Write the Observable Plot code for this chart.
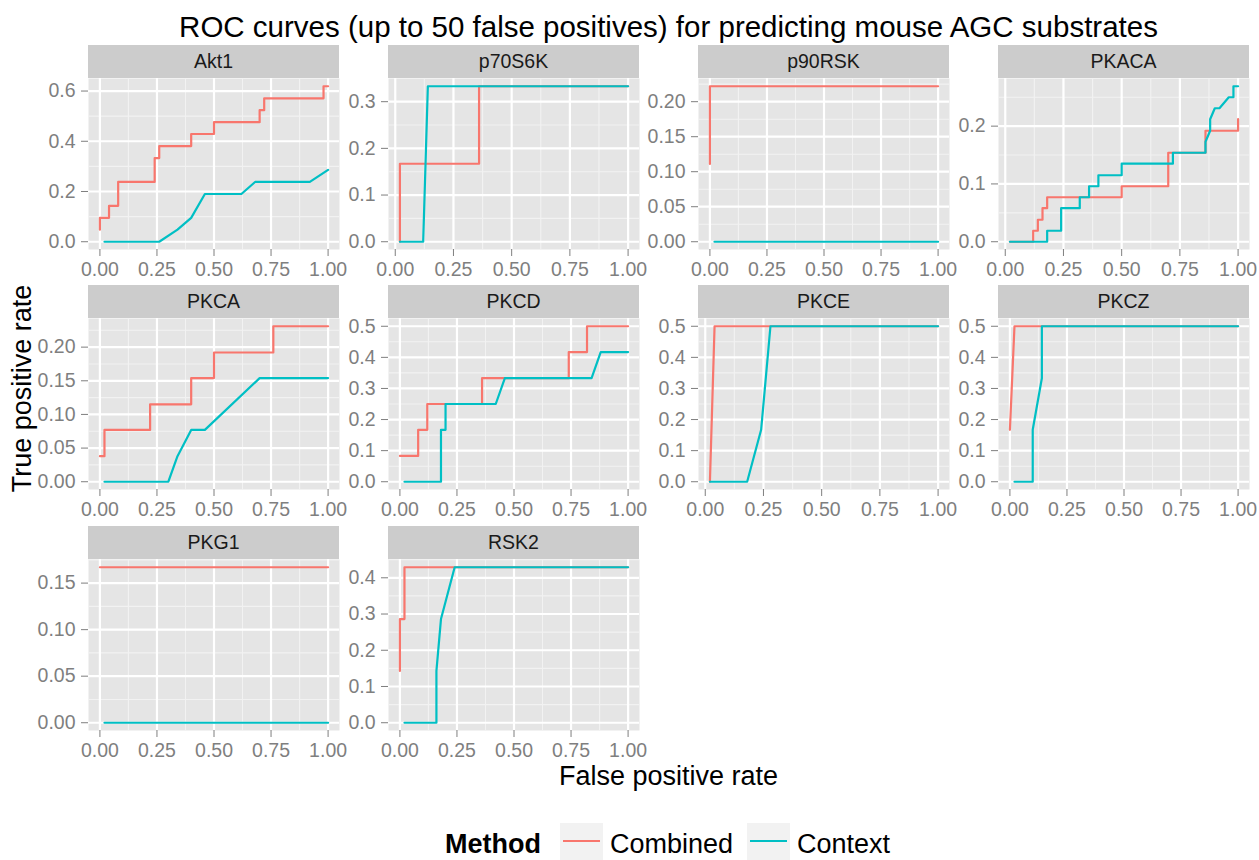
<!DOCTYPE html>
<html><head><meta charset="utf-8">
<script src="https://cdn.jsdelivr.net/npm/d3@7"></script>
<script src="https://cdn.jsdelivr.net/npm/@observablehq/plot@0.6"></script>
<style>
body{margin:0;background:#fff;font-family:"Liberation Sans",Arial,Helvetica,sans-serif;}
#root{position:relative;width:1259px;height:860px;overflow:hidden;background:#fff;}
.abs{position:absolute;white-space:nowrap;}
.strip{background:#CCCCCC;color:#1a1a1a;font-size:19.5px;display:flex;align-items:center;justify-content:center;}
</style></head><body><div id="root"></div><script>
// ---- data ----
const titleText = "ROC curves (up to 50 false positives) for predicting mouse AGC substrates";
const xTitle = "False positive rate";
const yTitle = "True positive rate";
const legendTitle = "Method";
const methods = ["Combined", "Context"];
const methodColors = ["#F8766D", "#00BFC4"];
const panelNames = ["Akt1","p70S6K","p90RSK","PKACA","PKCA","PKCD","PKCE","PKCZ","PKG1","RSK2"];
const xTickValues = [0, 0.25, 0.5, 0.75, 1];
const xTickLabels = ["0.00","0.25","0.50","0.75","1.00"];

const akt1Combined = [[0,0.048],[0,0.095],[0.04,0.095],[0.04,0.143],[0.08,0.143],[0.08,0.238],[0.24,0.238],[0.24,0.333],[0.26,0.333],[0.26,0.381],[0.40,0.381],[0.40,0.429],[0.50,0.429],[0.50,0.476],[0.70,0.476],[0.70,0.524],[0.72,0.524],[0.72,0.571],[0.98,0.571],[0.98,0.619],[1.00,0.619]];
const akt1Context = [[0.02,0],[0.26,0],[0.34,0.048],[0.40,0.095],[0.46,0.190],[0.62,0.190],[0.68,0.238],[0.92,0.238],[1.00,0.286]];
const akt1YTicks = ["0.0","0.2","0.4","0.6"];

const p70Combined = [[0.02,0],[0.02,0.167],[0.36,0.167],[0.36,0.333],[1,0.333]];
const p70Context = [[0.02,0],[0.12,0],[0.14,0.333],[1,0.333]];
const p70YTicks = ["0.0","0.1","0.2","0.3"];

const p90Combined = [[0,0.111],[0,0.222],[1,0.222]];
const p90Context = [[0.02,0],[1,0]];
const p90YTicks = ["0.00","0.05","0.10","0.15","0.20"];

const pkacaCombined = [[0.02,0],[0.12,0],[0.12,0.019],[0.14,0.019],[0.14,0.038],[0.16,0.038],[0.16,0.058],[0.18,0.058],[0.18,0.077],[0.50,0.077],[0.50,0.096],[0.70,0.096],[0.70,0.154],[0.86,0.154],[0.86,0.192],[1.00,0.192],[1.00,0.212]];
const pkacaContext = [[0.02,0],[0.18,0],[0.18,0.019],[0.24,0.019],[0.24,0.058],[0.32,0.058],[0.32,0.077],[0.36,0.077],[0.36,0.096],[0.40,0.096],[0.40,0.115],[0.50,0.115],[0.50,0.135],[0.72,0.135],[0.72,0.154],[0.86,0.154],[0.86,0.173],[0.88,0.192],[0.88,0.212],[0.90,0.231],[0.92,0.231],[0.96,0.250],[0.98,0.250],[0.98,0.269],[1.00,0.269]];
const pkacaYTicks = ["0.0","0.1","0.2"];

const pkcaCombined = [[0,0.038],[0.02,0.038],[0.02,0.077],[0.22,0.077],[0.22,0.115],[0.40,0.115],[0.40,0.154],[0.50,0.154],[0.50,0.192],[0.76,0.192],[0.76,0.231],[1,0.231]];
const pkcaContext = [[0.02,0],[0.30,0],[0.34,0.038],[0.40,0.077],[0.46,0.077],[0.70,0.154],[1,0.154]];
const pkcaYTicks = ["0.00","0.05","0.10","0.15","0.20"];

const pkcdCombined = [[0,0.083],[0.08,0.083],[0.08,0.167],[0.12,0.167],[0.12,0.25],[0.36,0.25],[0.36,0.333],[0.74,0.333],[0.74,0.417],[0.82,0.417],[0.82,0.5],[1,0.5]];
const pkcdContext = [[0.02,0],[0.18,0],[0.18,0.167],[0.20,0.167],[0.20,0.25],[0.42,0.25],[0.46,0.333],[0.84,0.333],[0.88,0.417],[1,0.417]];
const pkcdYTicks = ["0.0","0.1","0.2","0.3","0.4","0.5"];

const pkceCombined = [[0.02,0],[0.04,0.5],[1,0.5]];
const pkceContext = [[0.02,0],[0.18,0],[0.24,0.167],[0.28,0.5],[1,0.5]];
const pkceYTicks = ["0.0","0.1","0.2","0.3","0.4","0.5"];

const pkczCombined = [[0,0.167],[0.02,0.5],[1,0.5]];
const pkczContext = [[0.02,0],[0.10,0],[0.10,0.167],[0.14,0.333],[0.14,0.5],[1,0.5]];
const pkczYTicks = ["0.0","0.1","0.2","0.3","0.4","0.5"];

const pkg1Combined = [[0,0.167],[1,0.167]];
const pkg1Context = [[0.02,0],[1,0]];
const pkg1YTicks = ["0.00","0.05","0.10","0.15"];

const rsk2Combined = [[0,0.143],[0,0.286],[0.02,0.286],[0.02,0.429],[1,0.429]];
const rsk2Context = [[0.02,0],[0.16,0],[0.16,0.143],[0.18,0.286],[0.24,0.429],[1,0.429]];
const rsk2YTicks = ["0.0","0.1","0.2","0.3","0.4"];

const panelCombined = [akt1Combined,p70Combined,p90Combined,pkacaCombined,pkcaCombined,pkcdCombined,pkceCombined,pkczCombined,pkg1Combined,rsk2Combined];
const panelContext = [akt1Context,p70Context,p90Context,pkacaContext,pkcaContext,pkcdContext,pkceContext,pkczContext,pkg1Context,rsk2Context];
const panelYTicks = [akt1YTicks,p70YTicks,p90YTicks,pkacaYTicks,pkcaYTicks,pkcdYTicks,pkceYTicks,pkczYTicks,pkg1YTicks,rsk2YTicks];

// ---- layout ----
const FONT = '"Liberation Sans", Arial, Helvetica, sans-serif';
const colLeft = [88, 388, 698, 998];
const rowTop = [78, 318, 559];
const PW = 251, PH = 171, STRIP = 33;
const ML = 70, MR = 10, MB = 40;

const root = document.getElementById("root");
function addDiv(css, text, cls) {
  const d = document.createElement("div");
  d.className = "abs" + (cls ? " " + cls : "");
  d.style.cssText += css;
  if (text != null) d.textContent = text;
  root.appendChild(d);
  return d;
}

function minorBreaks(ticks, dom) {
  const step = ticks[1] - ticks[0];
  const ext = [ticks[0] - step, ...ticks, ticks[ticks.length - 1] + step];
  const out = [];
  for (let k = 0; k < ext.length - 1; k++) out.push((ext[k] + ext[k + 1]) / 2);
  return out.filter(v => v >= dom[0] && v <= dom[1]);
}

panelNames.forEach((name, i) => {
  const col = i % 4, row = Math.floor(i / 4);
  const left = colLeft[col], top = rowTop[row];
  const rows = [];
  panelCombined[i].forEach(([x, y]) => rows.push({method: "Combined", x, y}));
  panelContext[i].forEach(([x, y]) => rows.push({method: "Context", x, y}));
  const [x0, x1] = d3.extent(rows, d => d.x);
  const [y0, y1] = d3.extent(rows, d => d.y);
  const xDomain = [x0 - (x1 - x0) * 0.05, x1 + (x1 - x0) * 0.05];
  const yDomain = [y0 - (y1 - y0) * 0.05, y1 + (y1 - y0) * 0.05];
  const yLabels = panelYTicks[i];
  const yTickVals = yLabels.map(Number);
  const xFmt = new Map(xTickValues.map((v, k) => [v, xTickLabels[k]]));
  const yFmt = new Map(yTickVals.map((v, k) => [v, yLabels[k]]));

  const svg = Plot.plot({
    width: ML + PW + MR, height: PH + MB,
    marginLeft: ML, marginRight: MR, marginTop: 0, marginBottom: MB,
    style: {background: "transparent", fontFamily: FONT, fontSize: "19.5px", color: "#7F7F7F", overflow: "visible"},
    x: {domain: xDomain, label: null},
    y: {domain: yDomain, label: null},
    color: {domain: methods, range: methodColors},
    marks: [
      Plot.frame({fill: "#E5E5E5", stroke: null}),
      Plot.ruleX(minorBreaks(xTickValues, xDomain), {stroke: "#F2F2F2", strokeWidth: 1.1}),
      Plot.ruleY(minorBreaks(yTickVals, yDomain), {stroke: "#F2F2F2", strokeWidth: 1.1}),
      Plot.ruleX(xTickValues, {stroke: "#ffffff", strokeWidth: 2.2}),
      Plot.ruleY(yTickVals, {stroke: "#ffffff", strokeWidth: 2.2}),
      Plot.axisX(xTickValues, {tickSize: 7, tickPadding: 6, tickFormat: d => xFmt.get(d), label: null}),
      Plot.axisY(yTickVals, {tickSize: 7, tickPadding: 6, tickFormat: d => yFmt.get(d), label: null}),
      Plot.line(rows, {x: "x", y: "y", z: "method", stroke: "method", strokeWidth: 2.2})
    ]
  });
  const wrap = addDiv(`left:${left - ML}px;top:${top}px;`);
  wrap.appendChild(svg);
  addDiv(`left:${left}px;top:${top - STRIP}px;width:${PW}px;height:${STRIP}px;`, name, "strip");
});

// titles
addDiv(`left:0;top:12px;width:1337px;text-align:center;font-size:29.5px;line-height:29.5px;color:#000;`, titleText);
addDiv(`left:0;top:763px;width:1337px;text-align:center;font-size:27px;line-height:27px;color:#000;`, xTitle);
addDiv(`left:${22 - 150}px;top:${388 - 13.5}px;width:300px;height:27px;text-align:center;font-size:27px;line-height:27px;color:#000;transform:rotate(-90deg);`, yTitle);

// legend
addDiv(`left:445px;top:831px;font-size:27px;line-height:27px;font-weight:bold;color:#000;`, legendTitle);
const keyLeft = [560, 747], textLeft = [610, 797];
methods.forEach((m, k) => {
  const box = addDiv(`left:${keyLeft[k]}px;top:823px;width:43px;height:37px;background:#F2F2F2;`);
  const ln = document.createElement("div");
  ln.style.cssText = `position:absolute;left:3px;top:17px;width:37px;height:2.2px;background:${methodColors[k]};`;
  box.appendChild(ln);
  addDiv(`left:${textLeft[k]}px;top:831px;font-size:27px;line-height:27px;color:#000;`, m);
});
</script></body></html>
